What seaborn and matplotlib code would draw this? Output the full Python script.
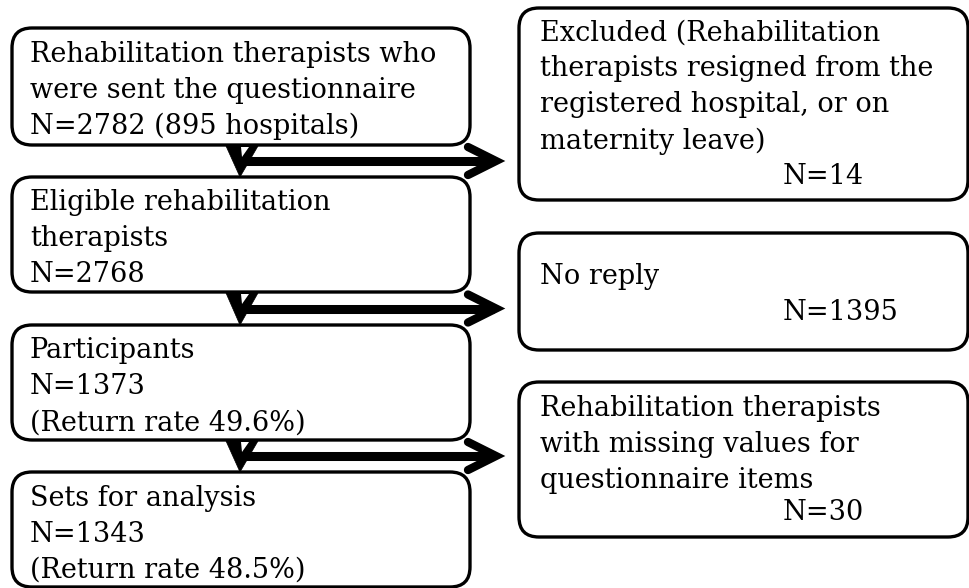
"""
Flow diagram of questionnaire participants (rehabilitation therapists)
"""
import matplotlib
matplotlib.use('Agg')
import matplotlib.pyplot as plt
from matplotlib.patches import FancyBboxPatch, Polygon
import seaborn as sns

# ---- data ----
flow_steps = [
    "Rehabilitation therapists who\nwere sent the questionnaire",
    "Eligible rehabilitation\ntherapists",
    "Participants",
    "Sets for analysis",
]
flow_n = [2782, 2768, 1373, 1343]
return_rate = [None, None, 49.6, 48.5]
n_hospitals = 895

drop_steps = [
    "Excluded (Rehabilitation\ntherapists resigned from the\nregistered hospital, or on\nmaternity leave)",
    "No reply",
    "Rehabilitation therapists\nwith missing values for\nquestionnaire items",
]
drop_n = [14, 1395, 30]

sns.set_theme(style="white")
plt.rcParams['font.family'] = ['DejaVu Serif']
plt.rcParams['text.color'] = 'black'

FS = 19.5
LINE = 36

fig = plt.figure(figsize=(9.7, 5.88), dpi=100)
ax = fig.add_axes([0, 0, 1, 1])
ax.set_xlim(0, 970)
ax.set_ylim(588, 0)
ax.axis('off')


def box(x0, y0, x1, y1):
    p = FancyBboxPatch((x0, y0), x1 - x0, y1 - y0,
                       boxstyle="round,pad=0,rounding_size=20",
                       fc='white', ec='black', lw=2.4)
    ax.add_patch(p)


# left column boxes
left_y = [(28, 145), (177, 292), (325, 440), (472, 587)]
for i, (label, n) in enumerate(zip(flow_steps, flow_n)):
    y0, y1 = left_y[i]
    box(12, y0, 470, y1)
    lines = label.split("\n")
    if i == 0:
        lines.append(f"N={n} ({n_hospitals} hospitals)")
    else:
        lines.append(f"N={n}")
    if return_rate[i] is not None:
        lines.append(f"(Return rate {return_rate[i]}%)")
    for k, t in enumerate(lines):
        ax.text(30, y0 + 26 + k * LINE, t, fontsize=FS, va='center', ha='left',
                color='black')

# right column boxes
right_y = [(8, 200), (233, 350), (382, 537)]
first_line = [33, 277, 408]
n_line = [176, 313, 513]
for i, (label, n) in enumerate(zip(drop_steps, drop_n)):
    y0, y1 = right_y[i]
    box(519, y0, 968, y1)
    lines = label.split("\n")
    for k, t in enumerate(lines):
        ax.text(540, first_line[i] + k * LINE, t, fontsize=FS, va='center',
                ha='left', color='black')
    ax.text(783, n_line[i], f"N={n}", fontsize=FS, va='center', ha='left',
            color='black')

# arrows between boxes
for i in range(3):
    top = left_y[i][1]
    bot = left_y[i + 1][0]
    mid = (top + bot) / 2
    # down arrowhead
    ax.add_patch(Polygon([(226, top + 1), (258, top + 1), (240, bot)],
                         closed=True, fc='black', ec='black', lw=0.5, zorder=3))
    ax.add_patch(Polygon([(241, top + 2), (249, top + 2), (242, top + 12)],
                         closed=True, fc='white', ec='none', zorder=4))
    # horizontal arrow to exclusion box
    ax.plot([243, 494], [mid, mid], color='black', lw=6.5,
            solid_capstyle='butt', zorder=3)
    ax.plot([468, 496, 468], [mid - 14, mid, mid + 14], color='black', lw=6,
            solid_capstyle='round', solid_joinstyle='miter', zorder=3)

plt.savefig("out.png", dpi=100)
plt.close()
